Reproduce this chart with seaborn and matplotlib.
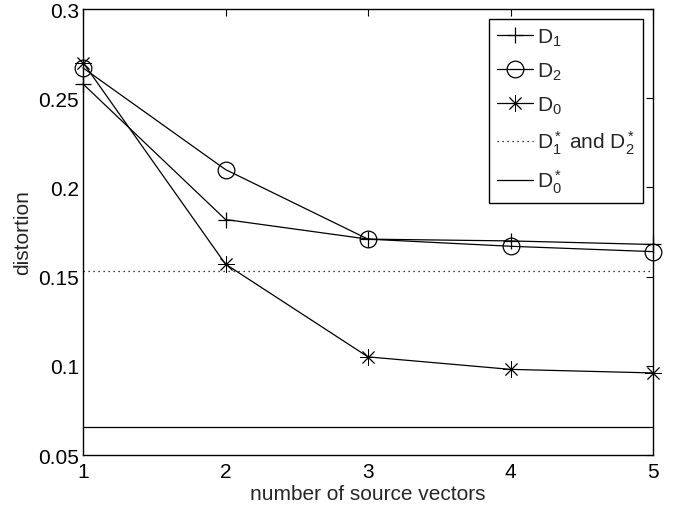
import numpy as np
import pandas as pd
import matplotlib
matplotlib.use("Agg")
import matplotlib.pyplot as plt
import seaborn as sns

# values
n_vectors = [1, 2, 3, 4, 5]
d1 = [0.258, 0.182, 0.171, 0.170, 0.168]
d2 = [0.267, 0.210, 0.171, 0.167, 0.164]
d0 = [0.270, 0.157, 0.105, 0.098, 0.096]
d12_star = 0.153   # D1* and D2*
d0_star = 0.0657   # D0*

x_ticks = [1, 2, 3, 4, 5]
y_ticks = [0.05, 0.1, 0.15, 0.2, 0.25, 0.3]
y_ticklabels = ["0.05", "0.1", "0.15", "0.2", "0.25", "0.3"]

sns.set_style("white")
plt.rcParams["font.family"] = ["Liberation Sans", "DejaVu Sans"]
plt.rcParams["mathtext.fontset"] = "custom"
plt.rcParams["mathtext.rm"] = "Liberation Sans"
plt.rcParams["mathtext.it"] = "Liberation Sans"

fig = plt.figure(figsize=(6.78, 5.10), dpi=100)
ax = fig.add_axes([83 / 678, 1 - 456 / 510, (653 - 83) / 678, (456 - 10) / 510])

lw = 0.9
ms = 12
common = dict(color="black", linewidth=lw, markersize=ms,
              markeredgecolor="black", ax=ax)

sns.lineplot(x=n_vectors, y=d1, marker="+", markeredgewidth=lw,
             label=r"$\mathregular{D_1}$", **common)
sns.lineplot(x=n_vectors, y=d2, marker="o", markerfacecolor="none",
             markeredgewidth=lw, label=r"$\mathregular{D_2}$", **common)
sns.lineplot(x=n_vectors, y=d0, marker=(8, 2, 0), markeredgewidth=0.65,
             label=r"$\mathregular{D_0}$", **common)
sns.lineplot(x=n_vectors, y=[d12_star] * len(n_vectors), linestyle=(0, (1, 3)),
             label=r"$\mathregular{D_1^*}$ and $\mathregular{D_2^*}$", **common)
sns.lineplot(x=n_vectors, y=[d0_star] * len(n_vectors),
             label=r"$\mathregular{D_0^*}$", **common)

for ln in ax.lines:
    ln.set_clip_on(False)

ax.set_xlim(1, 5)
ax.set_ylim(0.05, 0.3)
ax.set_xticks(x_ticks)
ax.set_yticks(y_ticks)
ax.set_yticklabels(y_ticklabels)
ax.tick_params(direction="in", top=True, right=True, length=5, width=0.8,
               labelsize=15, colors="black")
ax.tick_params(axis="x", pad=5)
ax.tick_params(axis="y", pad=3)
for s in ax.spines.values():
    s.set_visible(True)
    s.set_color("black")
    s.set_linewidth(1.0)
    s.set_zorder(0.5)

ax.set_xlabel("number of source vectors", fontsize=15, labelpad=2)
ax.set_ylabel("distortion", fontsize=15, labelpad=4)

leg = ax.legend(loc="upper right", fontsize=15, frameon=True, fancybox=False,
                edgecolor="black", framealpha=1, handlelength=1.75,
                handletextpad=0.2, labelspacing=0.6, borderpad=0.35,
                borderaxespad=0.5)
leg.get_frame().set_linewidth(1.0)

fig.savefig("out.png", dpi=100)
